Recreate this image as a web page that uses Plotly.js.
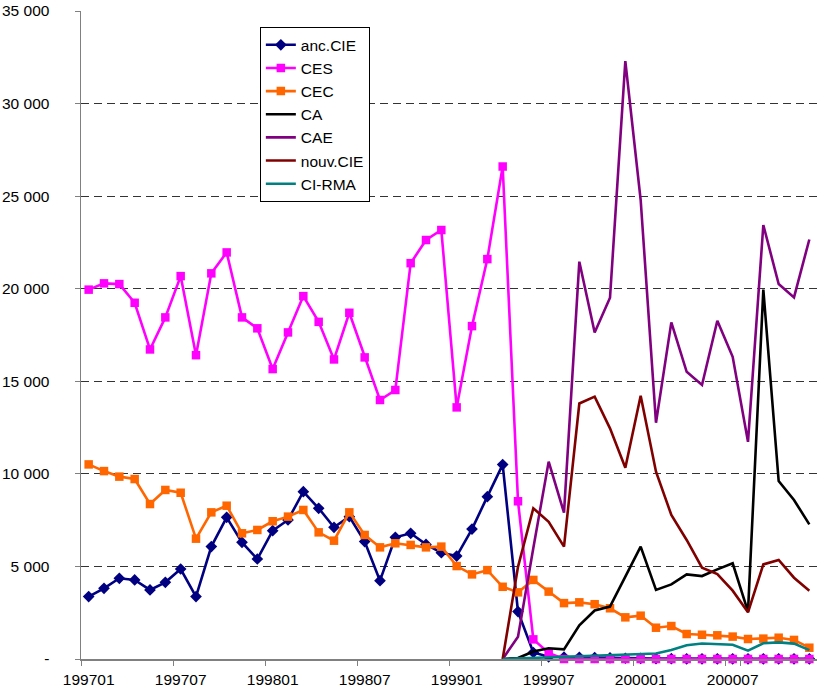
<!DOCTYPE html>
<html>
<head>
<meta charset="utf-8">
<script src="https://cdn.plot.ly/plotly-3.0.1.min.js"></script>
<style>html,body{margin:0;padding:0;background:#fff;}</style>
</head>
<body>
<div id="chart" style="width:817px;height:693px;"></div>
<script>
const months = ['199701','199702','199703','199704','199705','199706','199707','199708','199709','199710','199711','199712',
  '199801','199802','199803','199804','199805','199806','199807','199808','199809','199810','199811','199812',
  '199901','199902','199903','199904','199905','199906','199907','199908','199909','199910','199911','199912',
  '200001','200002','200003','200004','200005','200006','200007','200008','200009','200010','200011','200012'];

const tickMonths = ['199701','199707','199801','199807','199901','199907','200001','200007'];
const yTickVals = [0,5000,10000,15000,20000,25000,30000,35000];
const yTickText = ['-','5 000','10 000','15 000','20 000','25 000','30 000','35 000'];

const ancCIE = [3370,3820,4360,4270,3730,4140,4860,3370,6070,7650,6300,5400,6930,7510,9040,8140,7110,7690,6340,4230,
  6570,6790,6190,5740,5560,7020,8770,10500,2560,350,120,100,90,80,60,40,30,20,20,10,10,10,10,10,10,10,10,10];
const CES = [19950,20290,20250,19240,16720,18450,20680,16410,20830,21960,18450,17860,15660,17640,19600,18210,16180,18700,
  16290,13990,14530,21380,22630,23170,13590,17980,21600,26600,8520,1060,330,
  0,0,0,0,0,0,0,0,0,0,0,0,0,0,0,0,0];
const CEC = [10510,10150,9850,9720,8370,9130,8980,6500,7920,8280,6790,6970,7440,7690,8050,6840,6390,7920,6700,6030,
  6250,6160,6030,6070,5020,4570,4800,3900,3600,4270,3640,3020,3060,2960,2740,2250,2340,1690,1780,1350,
  1310,1280,1210,1080,1100,1150,1030,610];

// series starting in 199904
const lateMonths = months.slice(27);
const CA = [0,50,400,580,520,1820,2620,2830,4450,6070,3730,4030,4570,4480,4840,5170,2560,19950,9610,8590,7270];
const CAE = [0,1200,6000,10660,7900,21460,17640,19510,32290,24790,12760,18180,15510,14800,18270,16320,11730,23440,20250,19530,22660];
const nouvCIE = [0,4980,8140,7410,6070,13800,14170,12460,10330,14220,10120,7780,6430,4930,4590,3690,2520,5110,5350,4390,3690];
const CIRMA = [0,30,60,90,120,150,170,200,220,250,300,480,740,840,820,770,450,850,900,830,480];

const LW = 2.6;
const traces = [
  {name:'anc.CIE', x:months, y:ancCIE, mode:'lines+markers', cliponaxis:false, line:{color:'#000080', width:LW},
   marker:{symbol:'diamond', size:9, color:'#000080'}},
  {name:'CES', x:months, y:CES, mode:'lines+markers', cliponaxis:false, line:{color:'#FF00FF', width:LW},
   marker:{symbol:'square', size:8.5, color:'#FF00FF'}},
  {name:'CEC', x:months, y:CEC, mode:'lines+markers', cliponaxis:false, line:{color:'#FF6600', width:LW},
   marker:{symbol:'square', size:8.5, color:'#FF6600'}},
  {name:'CA', x:lateMonths, y:CA, mode:'lines', line:{color:'#000000', width:LW}},
  {name:'CAE', x:lateMonths, y:CAE, mode:'lines', line:{color:'#800080', width:LW}},
  {name:'nouv.CIE', x:lateMonths, y:nouvCIE, mode:'lines', line:{color:'#800000', width:LW}},
  {name:'CI-RMA', x:lateMonths, y:CIRMA, mode:'lines', line:{color:'#008080', width:LW}}
];

const font = {family:'"Liberation Sans", Arial, sans-serif', size:15.5, color:'#000'};

const layout = {
  width:817, height:693,
  margin:{l:81, r:0, t:11, b:34, pad:0},
  paper_bgcolor:'#fff', plot_bgcolor:'#fff',
  font:font,
  showlegend:true,
  legend:{x:0.243, y:0.975, xanchor:'left', yanchor:'top', bgcolor:'#fff', bordercolor:'#000', borderwidth:1,
    font:{family:'"Liberation Sans", Arial, sans-serif', size:15.5, color:'#000'}},
  xaxis:{type:'category', categoryorder:'array', categoryarray:months, range:[-0.5,47.5],
    tickmode:'array', tickvals:tickMonths, ticktext:tickMonths, tickson:'boundaries',
    ticks:'outside', ticklen:5, tickcolor:'#808080', tickwidth:1, ticklabelstandoff:6,
    showline:true, linecolor:'#808080', linewidth:1.5, showgrid:false, zeroline:false, tickangle:0},
  yaxis:{range:[0,35000], tickmode:'array', tickvals:yTickVals, ticktext:yTickText,
    ticks:'outside', ticklen:5, tickcolor:'#808080', tickwidth:1, ticklabelstandoff:22,
    showline:true, linecolor:'#808080', linewidth:1.5, zeroline:false,
    showgrid:true, gridcolor:'#333', gridwidth:1, griddash:'8px,5px'}
};

Plotly.newPlot('chart', traces, layout, {displayModeBar:false, staticPlot:true});
</script>
</body>
</html>
